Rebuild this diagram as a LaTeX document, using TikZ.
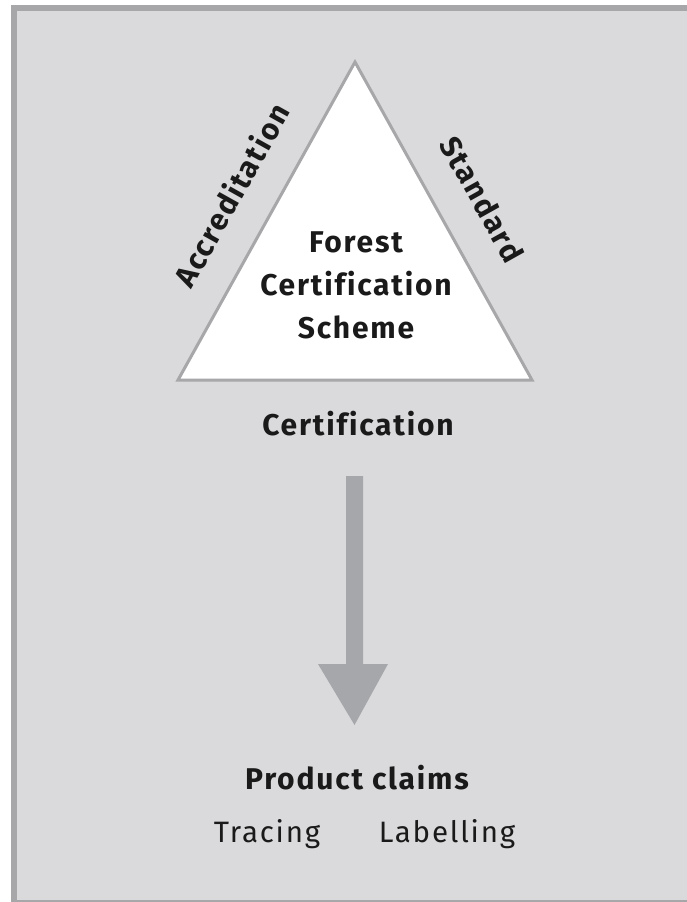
\documentclass[tikz,border=0pt]{standalone}
\usepackage{fontspec}
\setmainfont{Fira Sans}[LetterSpace=6,Ligatures=NoCommon]
\begin{document}
\begin{tikzpicture}[x=1pt,y=-1pt,
  tri/.style={draw=linecol,line width=3pt,fill=white,line join=miter},
  boldlbl/.style={font=\bfseries\fontsize{30}{35}\selectfont,text=txtcol,inner sep=0pt},
  plainlbl/.style={font=\fontsize{29.5}{34}\selectfont,text=txtcol,inner sep=0pt},
  bigarrow/.style={fill=arrcol,draw=none}]
\definecolor{bgcol}{HTML}{DADADC}
\definecolor{linecol}{HTML}{A7A7AA}
\definecolor{arrcol}{HTML}{A6A7AA}
\definecolor{txtcol}{HTML}{1A1A1A}
\useasboundingbox (0,0) rectangle (687,902);
\fill[white] (0,0) rectangle (687,902);
\fill[linecol] (11,5) rectangle (690,905);
\fill[bgcol] (17,11) rectangle (690,900);
% triangle
\coordinate (apex) at (355,62);
\coordinate (bl) at (178,380);
\coordinate (br) at (532,380);
\draw[tri] (apex) -- (bl) -- (br) -- cycle;
% labels
\node[boldlbl,rotate=60.8] (accr) at (231,195) {Accreditation};
\node[boldlbl,rotate=-60.8] (std) at (482,199) {Standard};
\node[boldlbl,align=center,font=\bfseries\fontsize{30}{43}\selectfont] (fcs) at (356,285) {Forest\\Certification\\Scheme};
\node[boldlbl] (cert) at (358,424) {Certification};
% arrow
\fill[bigarrow] (346,476) -- (363,476) -- (363,664) -- (388,664) -- (354.5,725) -- (318,664) -- (346,664) -- cycle;
\node[boldlbl] (pc) at (357,778) {Product claims};
\node[plainlbl] (trc) at (267,834) {Tracing};
\node[plainlbl] (lab) at (447,834) {Labelling};
\end{tikzpicture}
\end{document}
